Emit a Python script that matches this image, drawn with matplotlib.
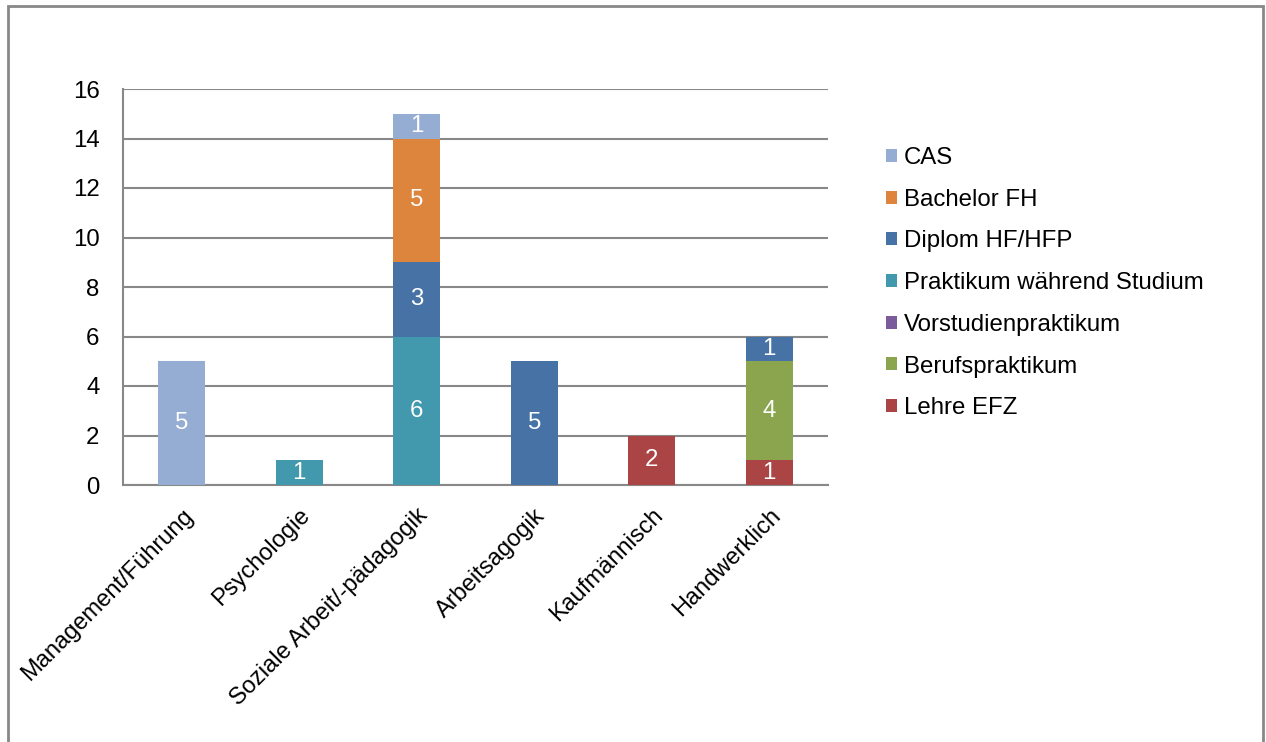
import numpy as np
import matplotlib.pyplot as plt
from matplotlib.patches import Patch, Rectangle

plt.rcParams['font.family'] = ['Liberation Sans', 'DejaVu Sans']

categories = ['Management/Führung', 'Psychologie', 'Soziale Arbeit/-pädagogik',
              'Arbeitsagogik', 'Kaufmännisch', 'Handwerklich']

# stacked from bottom to top
series = ['Lehre EFZ', 'Berufspraktikum', 'Vorstudienpraktikum',
          'Praktikum während Studium', 'Diplom HF/HFP', 'Bachelor FH', 'CAS']
lehre = [0, 0, 0, 0, 2, 1]
beruf = [0, 0, 0, 0, 0, 4]
vorstudien = [0, 0, 0, 0, 0, 0]
praktikum = [0, 1, 6, 0, 0, 0]
diplom = [0, 0, 3, 5, 0, 1]
bachelor = [0, 0, 5, 0, 0, 0]
cas = [5, 0, 1, 0, 0, 0]
values = [lehre, beruf, vorstudien, praktikum, diplom, bachelor, cas]
colors = ['#AB4545', '#8AA54E', '#7C5B9A', '#4299AE', '#4672A6', '#DD843D', '#95ACD3']

fs = 17.3

fig = plt.figure(figsize=(12.66, 7.42), dpi=100)
ax = fig.add_axes([123 / 1266, 1 - 485 / 742, 705 / 1266, 396 / 742])

x = np.arange(len(categories))
bottom = np.zeros(len(categories))
for name, vals, col in zip(series, values, colors):
    vals = np.array(vals, dtype=float)
    bars = ax.bar(x, vals, width=0.4, bottom=bottom, color=col, zorder=3)
    for b, v in zip(bars, vals):
        if v > 0:
            ax.text(b.get_x() + b.get_width() / 2, b.get_y() + v / 2, f'{int(v)}',
                    ha='center', va='center', color='white', fontsize=fs, zorder=4)
    bottom += vals

ax.set_xlim(-0.5, len(categories) - 0.5)
ax.set_ylim(0, 16)
ax.set_yticks(range(0, 17, 2))
ax.yaxis.grid(True, color='#888888', linewidth=1.5, zorder=0)
ax.tick_params(axis='both', length=0, labelsize=fs)
ax.tick_params(axis='y', pad=17)
ax.tick_params(axis='x', pad=14, labelsize=17)
ax.set_xticks(x)
ax.set_xticklabels(categories, rotation=45, ha='right', rotation_mode='anchor')
for lbl in ax.get_xticklabels():
    lbl.set_x(lbl.get_position()[0])
for s in ['top', 'right']:
    ax.spines[s].set_visible(False)
for s in ['left', 'bottom']:
    ax.spines[s].set_color('#888888')
    ax.spines[s].set_linewidth(1.5)

# legend in the same order as Excel shows it (top series first)
handles = [Patch(facecolor=c, edgecolor='none', label=n)
           for n, c in zip(series[::-1], colors[::-1])]
fig.legend(handles=handles, loc='upper left', bbox_to_anchor=(886 / 1266, 1 - 147 / 742),
           frameon=False, fontsize=fs, handlelength=0.45, handleheight=0.45,
           handletextpad=0.3, labelspacing=0.82, borderpad=0, borderaxespad=0)

# outer chart border
fig.patches.append(Rectangle((8 / 1266, -0.01), 1255 / 1266, 1 - 6 / 742 + 0.01,
                             transform=fig.transFigure, fill=False,
                             edgecolor='#888888', linewidth=2))

fig.savefig('out.png', dpi=100)
